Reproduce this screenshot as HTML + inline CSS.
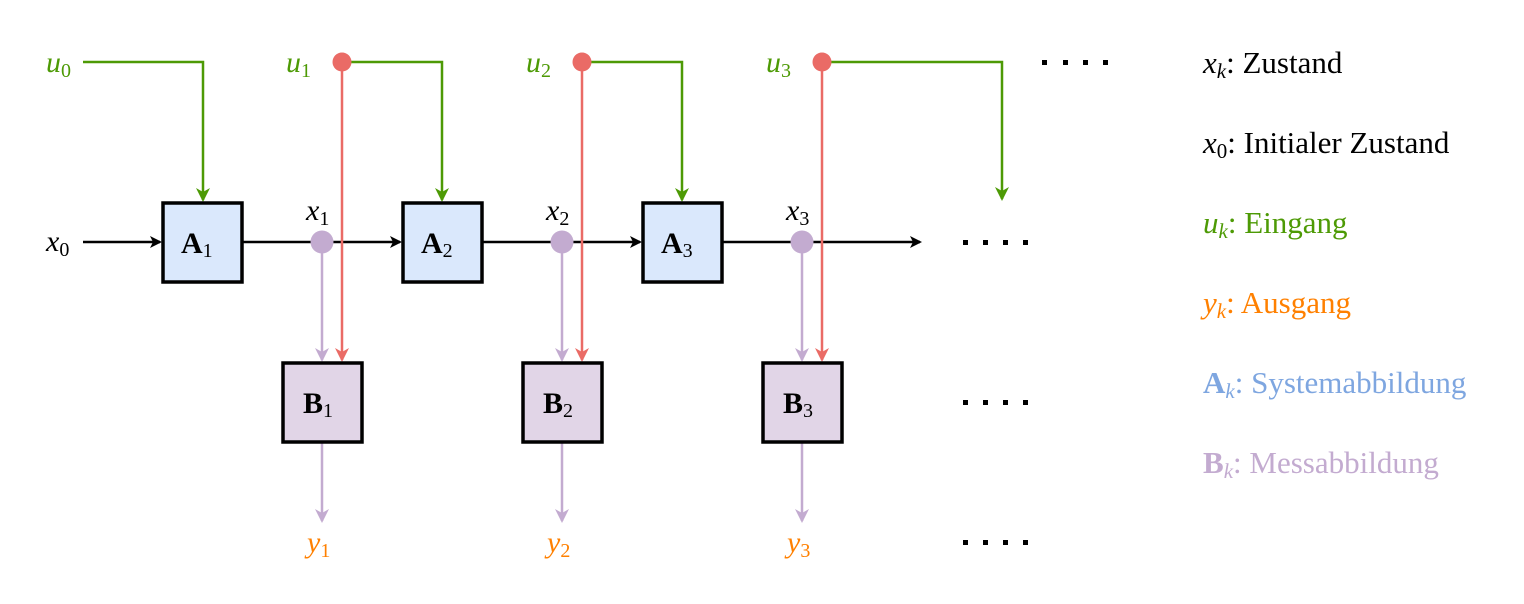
<!DOCTYPE html>
<html><head><meta charset="utf-8"><style>
html,body{margin:0;padding:0;background:#fff;}
svg{display:block;}
text{font-family:"Liberation Serif",serif;}
.it{font-style:italic;}
</style></head><body>
<svg width="1524" height="604" viewBox="0 0 1524 604" xmlns="http://www.w3.org/2000/svg">
<defs>
<marker id="ak" markerWidth="12" markerHeight="12" refX="10" refY="6" orient="auto" markerUnits="userSpaceOnUse"><path d="M0,0 L12,6 L0,12 L3,6 Z" fill="#000"/></marker>
<marker id="ag" markerWidth="14" markerHeight="14" refX="12" refY="7" orient="auto" markerUnits="userSpaceOnUse"><path d="M0,0 L14,7 L0,14 L4,7 Z" fill="#4d9a05"/></marker>
<marker id="ar" markerWidth="14" markerHeight="14" refX="12" refY="7" orient="auto" markerUnits="userSpaceOnUse"><path d="M0,0 L14,7 L0,14 L4,7 Z" fill="#ea6b66"/></marker>
<marker id="ap" markerWidth="14" markerHeight="14" refX="12" refY="7" orient="auto" markerUnits="userSpaceOnUse"><path d="M0,0 L14,7 L0,14 L4,7 Z" fill="#c3abd0"/></marker>
</defs>

<g stroke="#000" stroke-width="2.5" fill="none">
<line x1="83" y1="242" x2="160" y2="242" marker-end="url(#ak)"/>
<line x1="243" y1="242" x2="400" y2="242" marker-end="url(#ak)"/>
<line x1="483" y1="242" x2="640" y2="242" marker-end="url(#ak)"/>
<line x1="723" y1="242" x2="920" y2="242" marker-end="url(#ak)"/>
</g>

<g stroke="#4d9a05" stroke-width="2.5" fill="none">
<polyline points="83,62 203,62 203,200" marker-end="url(#ag)"/>
<polyline points="350,62 442,62 442,200" marker-end="url(#ag)"/>
<polyline points="590,62 682,62 682,200" marker-end="url(#ag)"/>
<polyline points="830,62 1002,62 1002,199" marker-end="url(#ag)"/>
</g>

<g stroke="#c3abd0" stroke-width="2.5" fill="none">
<line x1="322" y1="242" x2="322" y2="360" marker-end="url(#ap)"/>
<line x1="562" y1="242" x2="562" y2="360" marker-end="url(#ap)"/>
<line x1="802" y1="242" x2="802" y2="360" marker-end="url(#ap)"/>
<line x1="322" y1="443" x2="322" y2="521" marker-end="url(#ap)"/>
<line x1="562" y1="443" x2="562" y2="521" marker-end="url(#ap)"/>
<line x1="802" y1="443" x2="802" y2="521" marker-end="url(#ap)"/>
</g>
<g fill="#c3abd0">
<circle cx="322" cy="242" r="11.5"/><circle cx="562" cy="242" r="11.5"/><circle cx="802" cy="242" r="11.5"/>
</g>

<g stroke="#ea6b66" stroke-width="2.5" fill="none">
<line x1="342" y1="62" x2="342" y2="360" marker-end="url(#ar)"/>
<line x1="582" y1="62" x2="582" y2="360" marker-end="url(#ar)"/>
<line x1="822" y1="62" x2="822" y2="360" marker-end="url(#ar)"/>
</g>
<g fill="#ea6b66">
<circle cx="342" cy="62" r="9.5"/><circle cx="582" cy="62" r="9.5"/><circle cx="822" cy="62" r="9.5"/>
</g>

<g stroke="#000" stroke-width="3.5">
<rect x="163" y="203" width="79" height="79" fill="#dae8fc"/>
<rect x="403" y="203" width="79" height="79" fill="#dae8fc"/>
<rect x="643" y="203" width="79" height="79" fill="#dae8fc"/>
<rect x="283" y="363" width="79" height="79" fill="#e1d5e7"/>
<rect x="523" y="363" width="79" height="79" fill="#e1d5e7"/>
<rect x="763" y="363" width="79" height="79" fill="#e1d5e7"/>
</g>
<g font-size="30" font-weight="bold" fill="#000">
<text x="181" y="253">A<tspan font-size="20" font-weight="normal" dy="4">1</tspan></text>
<text x="421" y="253">A<tspan font-size="20" font-weight="normal" dy="4">2</tspan></text>
<text x="661" y="253">A<tspan font-size="20" font-weight="normal" dy="4">3</tspan></text>
<text x="303" y="413">B<tspan font-size="20" font-weight="normal" dy="4">1</tspan></text>
<text x="543" y="413">B<tspan font-size="20" font-weight="normal" dy="4">2</tspan></text>
<text x="783" y="413">B<tspan font-size="20" font-weight="normal" dy="4">3</tspan></text>
</g>

<g font-size="30" fill="#000">
<text x="46" y="251"><tspan class="it">x</tspan><tspan font-size="20" dy="5">0</tspan></text>
<text x="306" y="220"><tspan class="it">x</tspan><tspan font-size="20" dy="5">1</tspan></text>
<text x="546" y="220"><tspan class="it">x</tspan><tspan font-size="20" dy="5">2</tspan></text>
<text x="786" y="220"><tspan class="it">x</tspan><tspan font-size="20" dy="5">3</tspan></text>
</g>
<g font-size="30" fill="#4d9a05">
<text x="46" y="72"><tspan class="it">u</tspan><tspan font-size="20" dy="5">0</tspan></text>
<text x="286" y="72"><tspan class="it">u</tspan><tspan font-size="20" dy="5">1</tspan></text>
<text x="526" y="72"><tspan class="it">u</tspan><tspan font-size="20" dy="5">2</tspan></text>
<text x="766" y="72"><tspan class="it">u</tspan><tspan font-size="20" dy="5">3</tspan></text>
</g>
<g font-size="30" fill="#ff8000">
<text x="307" y="552"><tspan class="it">y</tspan><tspan font-size="20" dy="5">1</tspan></text>
<text x="547" y="552"><tspan class="it">y</tspan><tspan font-size="20" dy="5">2</tspan></text>
<text x="787" y="552"><tspan class="it">y</tspan><tspan font-size="20" dy="5">3</tspan></text>
</g>

<g fill="#000">
<rect x="1042" y="60" width="5" height="5"/><rect x="1063" y="60" width="5" height="5"/><rect x="1083" y="60" width="5" height="5"/><rect x="1103" y="60" width="5" height="5"/>
<rect x="963" y="240" width="5" height="5"/><rect x="983" y="240" width="5" height="5"/><rect x="1003" y="240" width="5" height="5"/><rect x="1023" y="240" width="5" height="5"/>
<rect x="963" y="400" width="5" height="5"/><rect x="983" y="400" width="5" height="5"/><rect x="1003" y="400" width="5" height="5"/><rect x="1023" y="400" width="5" height="5"/>
<rect x="963" y="540" width="5" height="5"/><rect x="983" y="540" width="5" height="5"/><rect x="1003" y="540" width="5" height="5"/><rect x="1023" y="540" width="5" height="5"/>
</g>

<g font-size="31">
<text x="1203" y="73" fill="#000"><tspan class="it">x</tspan><tspan class="it" font-size="21" dy="5">k</tspan><tspan dy="-5">: Zustand</tspan></text>
<text x="1203" y="153" fill="#000"><tspan class="it">x</tspan><tspan font-size="21" dy="5">0</tspan><tspan dy="-5">: Initialer Zustand</tspan></text>
<text x="1203" y="233" fill="#4d9a05"><tspan class="it">u</tspan><tspan class="it" font-size="21" dy="5">k</tspan><tspan dy="-5">: Eingang</tspan></text>
<text x="1203" y="313" fill="#ff8000"><tspan class="it">y</tspan><tspan class="it" font-size="21" dy="5">k</tspan><tspan dy="-5">: Ausgang</tspan></text>
<text x="1203" y="393" fill="#7ea6e0"><tspan font-weight="bold">A</tspan><tspan class="it" font-size="21" dy="5">k</tspan><tspan dy="-5">: Systemabbildung</tspan></text>
<text x="1203" y="473" fill="#c3abd0"><tspan font-weight="bold">B</tspan><tspan class="it" font-size="21" dy="5">k</tspan><tspan dy="-5">: Messabbildung</tspan></text>
</g>
</svg>
</body></html>
